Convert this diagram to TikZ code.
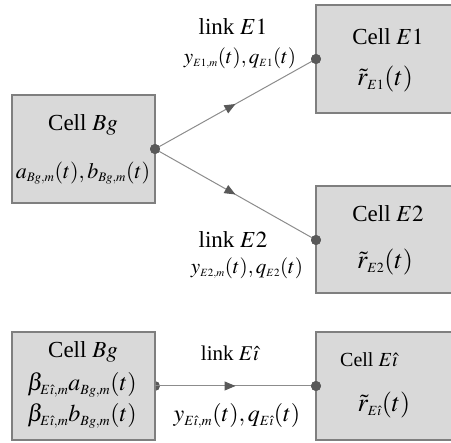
\documentclass[tikz,border=0pt]{standalone}
\usepackage{mathptmx}
\usepackage{fontspec}
\setmainfont{Liberation Serif}
\DeclareMathSizes{21}{21}{11}{8}
\DeclareMathSizes{22}{22}{13}{10}
\DeclareMathSizes{24}{24}{14}{11}
\DeclareMathSizes{26}{26}{14}{11}
\usetikzlibrary{arrows.meta,decorations.markings}
\definecolor{cellfill}{HTML}{D9D9D9}
\definecolor{boxgray}{HTML}{7F7F7F}
\definecolor{linegray}{HTML}{8C8C8C}
\definecolor{dotgray}{HTML}{595959}
\tikzset{
  cellbox/.style={draw=boxgray, line width=2pt, fill=cellfill, inner sep=0pt, rectangle},
  linkline/.style={draw=linegray, line width=1pt, postaction={decorate},
    decoration={markings, mark=at position 0.5 with {\arrow[dotgray]{Triangle[length=11pt,width=9pt]}}}},
  dotmark/.style={circle, fill=dotgray, inner sep=0pt, minimum size=10pt},
  lbl/.style={font=\fontsize{23}{26}\selectfont, inner sep=0pt},
  mathsmall/.style={font=\fontsize{21}{24}\selectfont, inner sep=0pt},
  mathmid/.style={font=\fontsize{22}{26}\selectfont, inner sep=0pt},
  mathbig/.style={font=\fontsize{24}{28}\selectfont, inner sep=0pt},
  mathhuge/.style={font=\fontsize{26}{30}\selectfont, inner sep=0pt},
  lblmid/.style={font=\fontsize{21}{24}\selectfont, inner sep=0pt},
  lblsmall/.style={font=\fontsize{20}{24}\selectfont, inner sep=0pt}
}
\begin{document}
\begin{tikzpicture}[x=1pt,y=-1pt]
\useasboundingbox (0,0) rectangle (451,443);
% boxes
\node[cellbox, minimum width=143pt, minimum height=108pt] (bg) at (83.5,149) {};
\node[cellbox, minimum width=154pt, minimum height=108pt] (e1) at (393,59) {};
\node[cellbox, minimum width=154pt, minimum height=107pt] (e2) at (393,239.5) {};
% bottom row: left dot under the box
\node[dotmark] (bgbdot) at (155,386) {};
\node[cellbox, minimum width=143pt, minimum height=108pt] (bgb) at (83.5,386) {};
\node[cellbox, minimum width=154pt, minimum height=108pt] (ei) at (393,386) {};
% dot nodes
\node[dotmark] (bgdot) at (155,149) {};
\node[dotmark] (e1dot) at (316,59) {};
\node[dotmark] (e2dot) at (316,240) {};
\node[dotmark] (eidot) at (316,386) {};
% connectors
\draw[linkline] (bgdot.center) -- (e1dot.center);
\draw[linkline] (bgdot.center) -- (e2dot.center);
\draw[linkline] (bgbdot.center) -- (eidot.center);
% redraw dots on top
\node[dotmark] at (bgdot) {};
\node[dotmark] at (e1dot) {};
\node[dotmark] at (e2dot) {};
\node[dotmark] at (eidot) {};
% texts
\node[lbl] (tbg1) at (83,125) {Cell $Bg$};
\node[mathmid] (tbg2) at (83,173) {$a_{Bg,m}(t),b_{Bg,m}(t)$};
\node[lbl] (te1a) at (388,37) {Cell $E1$};
\node[mathhuge] (te1b) at (385,79) {$\tilde r_{E1}(t)$};
\node[lbl] (te2a) at (388,214) {Cell $E2$};
\node[mathhuge] (te2b) at (385,262) {$\tilde r_{E2}(t)$};
\node[lbl] (tl1a) at (233,27) {link $E1$};
\node[mathsmall] (tl1b) at (240,58) {$y_{E1,m}(t),q_{E1}(t)$};
\node[lbl] (tl2a) at (233,240) {link $E2$};
\node[mathsmall] (tl2b) at (247,268) {$y_{E2,m}(t),q_{E2}(t)$};
\node[lbl] (tbb1) at (83,352) {Cell $Bg$};
\node[mathbig] (tbb2) at (82,385) {$\beta_{E\hat\imath,m}a_{Bg,m}(t)$};
\node[mathbig] (tbb3) at (82,416) {$\beta_{E\hat\imath,m}b_{Bg,m}(t)$};
\node[lblmid] (tlia) at (230,353) {link $E\hat\imath$};
\node[mathbig] (tlib) at (237,416) {$y_{E\hat\imath,m}(t),q_{E\hat\imath}(t)$};
\node[lblsmall] (teia) at (369,360) {Cell $E\hat\imath$};
\node[mathhuge] (teib) at (384,405) {$\tilde r_{E\hat\imath}(t)$};
\end{tikzpicture}
\end{document}
